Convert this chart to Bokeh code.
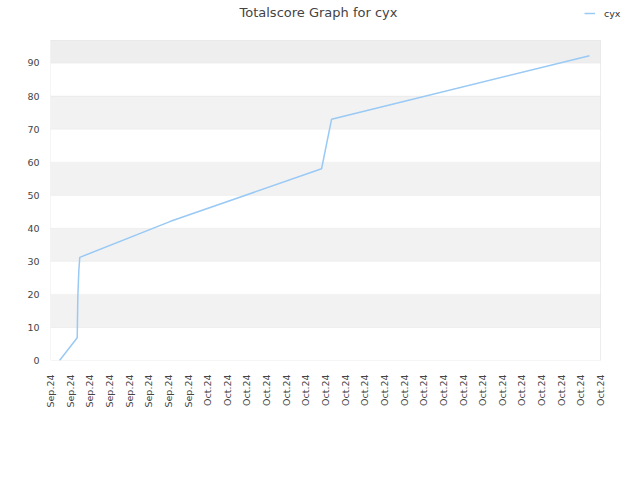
from bokeh.plotting import figure
from bokeh.models import Range1d, FixedTicker, BoxAnnotation, Legend, LegendItem, Label
from bokeh.embed import file_html
from bokeh.resources import INLINE
import math

# ---- data ----
tick_labels = ["Sep.24"] * 8 + ["Oct.24"] * 21
x_pos = [0.46, 1.36, 1.39, 1.44, 1.49, 6.11, 13.80, 14.31, 27.44]
scores = [0, 6.9, 19, 27, 31.2, 42.1, 58, 73, 92.2]
y_ticks = [0, 10, 20, 30, 40, 50, 60, 70, 80, 90]
series_name = "cyx"
title_text = "Totalscore Graph for cyx"

FONT = "DejaVu Sans"
LINE_COLOR = "#99c9f5"

# plotting box: data extent of the chart area
X_MAX = len(tick_labels) - 1
Y_MAX = 96.8
PX_PER_X = 550 / X_MAX          # 550 px wide chart area
PX_PER_Y = 320 / Y_MAX          # 320 px tall chart area

# frame extends 40 px right and 40 px up beyond the chart area so that
# title and legend sit inside the (clipped) frame
p = figure(width=640, height=480, output_backend="svg", toolbar_location=None,
           x_range=Range1d(0, X_MAX + 40 / PX_PER_X),
           y_range=Range1d(0, Y_MAX + 40 / PX_PER_Y),
           min_border_left=50, min_border_right=0, min_border_top=0, min_border_bottom=120)
p.frame_width = 590
p.frame_height = 360

p.background_fill_color = "white"
p.border_fill_color = "white"
p.outline_line_color = None
p.xgrid.grid_line_color = None
p.ygrid.grid_line_color = None

# alternating bands with grid lines
edges = y_ticks + [Y_MAX]
for i in range(len(edges) - 1):
    lo, hi = edges[i], edges[i + 1]
    if i == len(edges) - 2:
        fill = "#eeeeee"
    elif i % 2 == 1:
        fill = "#f2f2f2"
    else:
        fill = "#ffffff"
    p.add_layout(BoxAnnotation(left=0, right=X_MAX, bottom=lo, top=hi,
                               fill_color=fill, fill_alpha=1,
                               line_color="#e3e3e3", line_width=1, level="underlay"))
# chart border
p.add_layout(BoxAnnotation(left=0, right=X_MAX, bottom=0, top=Y_MAX,
                           fill_alpha=0, line_color="#d8d8d8", line_width=1, level="underlay"))

p.yaxis.ticker = FixedTicker(ticks=y_ticks)
p.xaxis.ticker = FixedTicker(ticks=list(range(len(tick_labels))))
p.xaxis.major_label_overrides = {i: t for i, t in enumerate(tick_labels)}
p.xaxis.major_label_orientation = math.pi / 2

for ax in (p.xaxis, p.yaxis):
    ax.axis_line_color = None
    ax.major_tick_line_color = None
    ax.minor_tick_line_color = None
    ax.major_label_text_font = FONT
    ax.major_label_text_font_size = "9.5px"
    ax.major_label_text_color = "#444444"
p.yaxis.major_label_standoff = 5
p.xaxis.major_label_standoff = 8

r = p.line(x_pos, scores, line_color=LINE_COLOR, line_width=1.5)

# title
p.add_layout(Label(x=268, y=348, x_units="screen", y_units="screen", text=title_text,
                   text_align="center", text_baseline="middle",
                   text_font=FONT, text_font_size="13px", text_color="#444444"))

# legend
p.add_layout(Legend(items=[LegendItem(label=series_name, renderers=[r])],
                    location=(534, 339), orientation="horizontal",
                    padding=0, margin=0, border_line_color=None, background_fill_alpha=0,
                    glyph_width=11, glyph_height=16, label_height=16, label_standoff=9,
                    label_text_font=FONT, label_text_font_size="9.5px", label_text_color="#333333"))

open("out.html", "w").write(file_html(p, INLINE))
